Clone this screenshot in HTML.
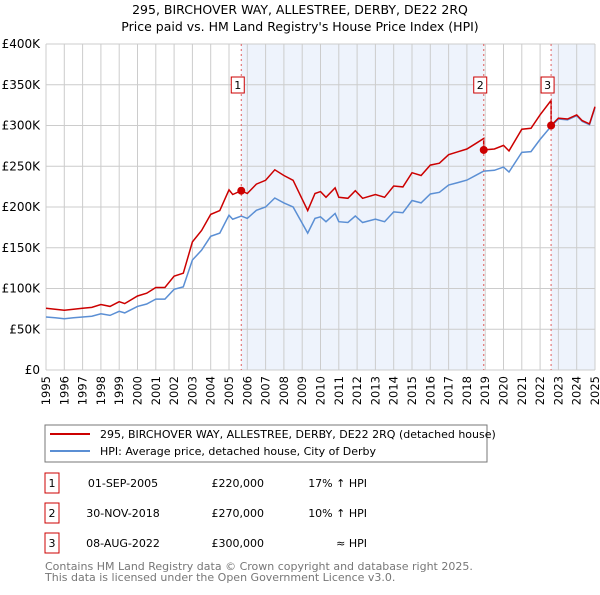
<!DOCTYPE html>
<html><head><meta charset="utf-8"><style>
body{margin:0;background:#fff;font-family:"Liberation Sans","DejaVu Sans",sans-serif;}
svg text{font-family:"DejaVu Sans","Liberation Sans",sans-serif;}
</style></head><body>
<svg id="c" width="600" height="590" xmlns="http://www.w3.org/2000/svg">
<text x="300" y="14" text-anchor="middle" font-size="12.5" fill="#000">295, BIRCHOVER WAY, ALLESTREE, DERBY, DE22 2RQ</text>
<text x="300" y="31" text-anchor="middle" font-size="12.5" fill="#000">Price paid vs. HM Land Registry's House Price Index (HPI)</text>
<g id="plot"></g>
<rect x="45" y="425" width="442" height="37" fill="#fff" stroke="#777"/>
<line x1="50" y1="434" x2="90" y2="434" stroke="#cc0000" stroke-width="2"/>
<text x="100" y="438" font-size="11">295, BIRCHOVER WAY, ALLESTREE, DERBY, DE22 2RQ (detached house)</text>
<line x1="50" y1="451" x2="90" y2="451" stroke="#5b8fd4" stroke-width="2"/>
<text x="100" y="455" font-size="11">HPI: Average price, detached house, City of Derby</text>
<g id="table" font-size="11"></g>
<text x="45" y="570" font-size="11" fill="#777">Contains HM Land Registry data © Crown copyright and database right 2025.</text>
<text x="45" y="581" font-size="11" fill="#777">This data is licensed under the Open Government Licence v3.0.</text>
</svg>
<script>
const hpiYears=[1995,1995.5,1996,1996.5,1997,1997.5,1998,1998.5,1999,1999.3,2000,2000.5,2001,2001.5,2002,2002.5,2003,2003.5,2004,2004.5,2005,2005.2,2005.67,2006,2006.5,2007,2007.5,2008,2008.5,2009,2009.3,2009.7,2010,2010.3,2010.8,2011,2011.5,2011.9,2012.3,2013,2013.5,2014,2014.5,2015,2015.5,2016,2016.5,2017,2017.5,2018,2018.5,2018.92,2019.5,2020,2020.3,2021,2021.5,2022,2022.6,2023,2023.5,2024,2024.3,2024.7,2025];
const hpiValues=[65,64,63,64,65,66,69,67,72,70,78,81,87,87,99,102,135,147,164,168,190,185,189,186,196,200,211,205,200,180,168,186,188,182,192,182,181,189,181,185,182,194,193,208,205,216,218,227,230,233,239,244,245,249,243,267,268,283,299,308,307,312,305,301,322];
const saleYears=[2005.67,2018.92,2022.6];
const salePrices=[220,270,300];
const saleDates=["01-SEP-2005","30-NOV-2018","08-AUG-2022"];
const saleLabels=["£220,000","£270,000","£300,000"];
const saleHpi=["17% ↑ HPI","10% ↑ HPI","≈ HPI"];
const yTicks=[0,50,100,150,200,250,300,350,400];
const yTickLabels=["£0","£50K","£100K","£150K","£200K","£250K","£300K","£350K","£400K"];
const xTicks=[1995,1996,1997,1998,1999,2000,2001,2002,2003,2004,2005,2006,2007,2008,2009,2010,2011,2012,2013,2014,2015,2016,2017,2018,2019,2020,2021,2022,2023,2024,2025];

const NS="http://www.w3.org/2000/svg";
const X=t=>46+(t-1995)*(595-46)/30;
const Y=v=>370-v*(370-44)/400;
const plot=document.getElementById('plot');
function mk(tag,attrs,parent){const e=document.createElementNS(NS,tag);for(const k in attrs)e.setAttribute(k,attrs[k]);(parent||plot).appendChild(e);return e;}
function hpiAt(t){for(let i=0;i<hpiYears.length-1;i++){if(t<=hpiYears[i+1]){const f=(t-hpiYears[i])/(hpiYears[i+1]-hpiYears[i]);return hpiValues[i]+f*(hpiValues[i+1]-hpiValues[i]);}}return hpiValues[hpiValues.length-1];}
let r=mk('rect',{x:X(1995),y:Y(400),width:X(2025)-X(1995),height:Y(0)-Y(400),fill:'#fff'});


[[saleYears[0],saleYears[1]],[saleYears[2],2025]].forEach((s,i)=>{
 const e=mk('rect',{x:X(s[0]),y:Y(400),width:X(s[1])-X(s[0]),height:Y(0)-Y(400),fill:'#eef3fc'});
 
 
});
yTicks.forEach((v,i)=>{
 const l=mk('line',{x1:X(1995),x2:X(2025),y1:Y(v),y2:Y(v),stroke:'#ccc'});
 
 
 const t=mk('text',{x:40,y:Y(v)+4,'text-anchor':'end','font-size':'12'});t.textContent=yTickLabels[i];
 
 
});
xTicks.forEach(v=>{
 const l=mk('line',{x1:X(v),x2:X(v),y1:Y(400),y2:Y(0),stroke:'#ccc'});
 
 
 const t=mk('text',{x:0,y:0,'text-anchor':'end','font-size':'11.5',transform:'translate('+(X(v)+4)+',376) rotate(-90)'});t.textContent=v;
 
 
});
let d='';hpiYears.forEach((t,i)=>{d+=(i?'L':'M')+X(t).toFixed(1)+','+Y(hpiValues[i]).toFixed(1);});
const hl=mk('path',{d:d,fill:'none',stroke:'#5b8fd4','stroke-width':1.5});


function factor(t){let k=0;for(let i=0;i<saleYears.length;i++)if(t>=saleYears[i])k=i;return salePrices[k]/hpiAt(saleYears[k]);}
let pd='';const pts=[];
hpiYears.forEach(t=>pts.push(t));saleYears.forEach(t=>{pts.push(t-0.001);pts.push(t);});
pts.sort((a,b)=>a-b);
pts.forEach((t,i)=>{
 let f=1;if(t<saleYears[0])f=salePrices[0]/hpiAt(saleYears[0]);else f=factor(t);
 pd+=(i?'L':'M')+X(t).toFixed(1)+','+Y(hpiAt(t)*f).toFixed(1);});
const pl=mk('path',{d:pd,fill:'none',stroke:'#cc0000','stroke-width':1.5});


saleYears.forEach((t,i)=>{
 const l=mk('line',{x1:X(t),x2:X(t),y1:Y(400),y2:Y(0),stroke:'#e06060','stroke-dasharray':'2,3'});
 
 
 const c=mk('circle',{cx:X(t),cy:Y(salePrices[i]),r:4,fill:'#cc0000'});
 
 
 const b=mk('rect',{x:X(t)-10,y:77,width:13,height:16,fill:'#fff',stroke:'#cc0000'});
 
 
 const tx=mk('text',{x:X(t)-3.5,y:89,'text-anchor':'middle','font-size':'11'});tx.textContent=i+1;
 
 
});
const tb=document.getElementById('table');
saleYears.forEach((t,i)=>{
 const y=476+i*30;
 const b=mk('rect',{x:45,y:y-3,width:14,height:20,fill:'#fff',stroke:'#cc0000'},tb);
 
 
 const n=mk('text',{x:52,y:y+11,'text-anchor':'middle'},tb);n.textContent=i+1;
 
 
 const a=mk('text',{x:123,y:y+11,'text-anchor':'middle'},tb);a.textContent=saleDates[i];
 
 
 const p=mk('text',{x:264,y:y+11,'text-anchor':'end'},tb);p.textContent=saleLabels[i];
 
 
 const h=mk('text',{x:367,y:y+11,'text-anchor':'end'},tb);h.textContent=saleHpi[i];
 
 
});
</script>
</body></html>
